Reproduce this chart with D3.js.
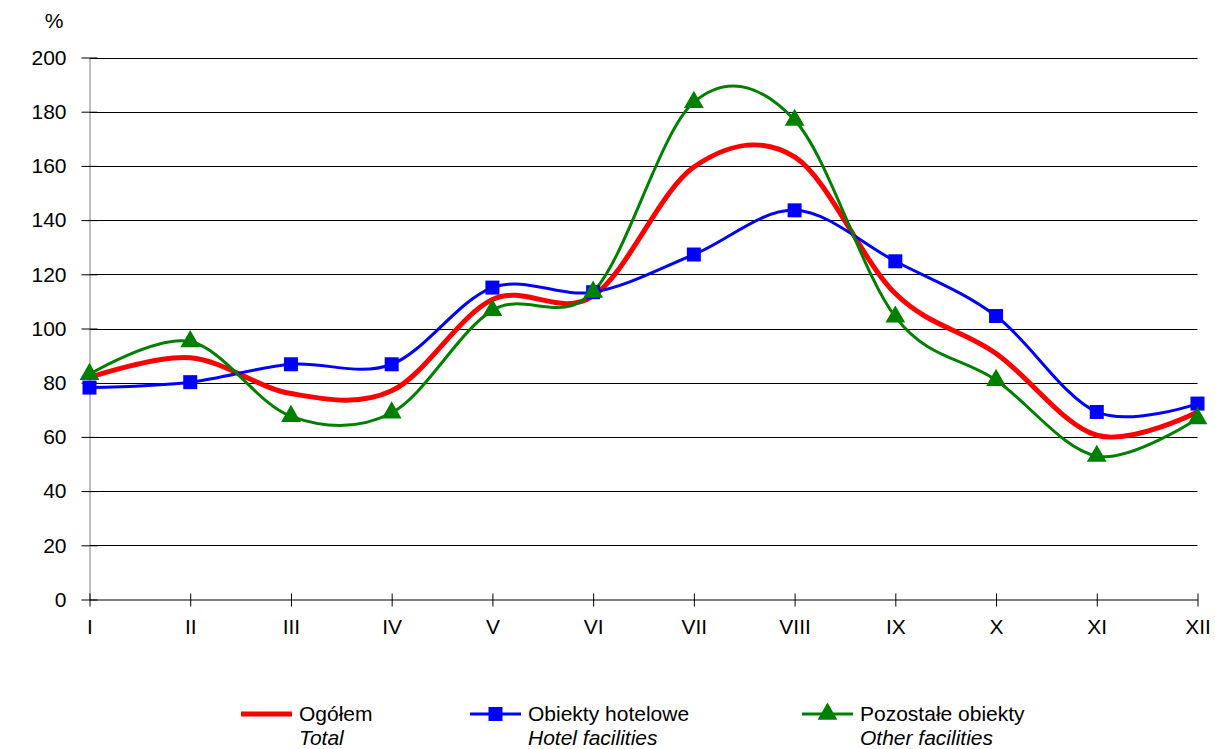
<!DOCTYPE html>
<html>
<head>
<meta charset="utf-8">
<script src="https://cdn.jsdelivr.net/npm/d3@7/dist/d3.min.js"></script>
<style>
  body { margin: 0; background: #fff; }
  svg text { font-family: "Liberation Sans", Arial, sans-serif; fill: #000; }
</style>
</head>
<body>
<svg id="chart" width="1215" height="749"></svg>
<script>
"use strict";

// month labels and series (% values)
var months = ["I", "II", "III", "IV", "V", "VI", "VII", "VIII", "IX", "X", "XI", "XII"];
var totalVals = [81.9, 89.2, 76, 77, 110.7, 112, 159.6, 163.3, 112.9, 90.8, 60.6, 69.2];
var hotelVals = [78.2, 80.2, 86.8, 86.8, 115.1, 113.4, 127.3, 143.6, 124.8, 104.6, 69.2, 72.3];
var otherVals = [83.1, 95.2, 67.6, 68.9, 106.7, 113.5, 183.5, 176.9, 104.3, 80.9, 52.9, 66.8];
var yTicks = [0, 20, 40, 60, 80, 100, 120, 140, 160, 180, 200];

var series = [
  { name: "Ogółem", en: "Total", values: totalVals, color: "#ff0000", width: 5, marker: null },
  { name: "Obiekty hotelowe", en: "Hotel facilities", values: hotelVals, color: "#0000ff", width: 3, marker: "square" },
  { name: "Pozostałe obiekty", en: "Other facilities", values: otherVals, color: "#008000", width: 3, marker: "triangle" }
];

var svg = d3.select("#chart");

var x = d3.scalePoint().domain(months).range([89.5, 1197.5]);
var y = d3.scaleLinear().domain([0, 200]).range([599.5, 57.5]);

// gridlines
svg.append("g").selectAll("line.grid")
  .data(yTicks.filter(function (d) { return d > 0; }))
  .enter().append("line")
  .attr("class", "grid")
  .attr("x1", 89.5).attr("x2", 1197.5)
  .attr("y1", function (d) { return Math.round(y(d)) + 0.5; })
  .attr("y2", function (d) { return Math.round(y(d)) + 0.5; })
  .style("stroke", "#000").style("stroke-width", 1);

// y axis
var yAxis = d3.axisLeft(y).tickValues(yTicks).tickSizeInner(8).tickSizeOuter(0).tickPadding(15);
var gy = svg.append("g").attr("transform", "translate(89.5,0)").call(yAxis);
gy.select(".domain").style("stroke", "#7f7f7f");
gy.selectAll(".tick line").attr("x2", -8).attr("x1", 8).style("stroke", "#000");
gy.selectAll(".tick text").style("font-size", "21px").attr("x", -23)
  .style("font-family", "'Liberation Sans', Arial, sans-serif");

// x axis
var xAxis = d3.axisBottom(x).tickSizeInner(7).tickSizeOuter(0).tickPadding(13);
var gx = svg.append("g").attr("transform", "translate(0,599.5)").call(xAxis);
gx.select(".domain").style("stroke", "#000");
gx.selectAll(".tick line").attr("y1", -6).style("stroke", "#000");
gx.selectAll(".tick text").style("font-size", "21px")
  .style("font-family", "'Liberation Sans', Arial, sans-serif");

svg.append("text").attr("x", 54).attr("y", 28).attr("text-anchor", "middle")
  .style("font-size", "21px").text("%");

var line = d3.line()
  .x(function (d, i) { return x(months[i]); })
  .y(function (d) { return y(d); })
  .curve(d3.curveCatmullRom.alpha(0));

var triangle = d3.symbol().type(d3.symbolTriangle).size(170);

function drawMarker(sel, kind, color) {
  if (kind === "square") {
    sel.append("rect").attr("x", -7).attr("y", -7).attr("width", 14).attr("height", 14)
      .style("fill", color);
  } else if (kind === "triangle") {
    sel.append("path").attr("d", triangle).style("fill", color);
  }
}

series.forEach(function (s) {
  svg.append("path")
    .attr("d", line(s.values))
    .style("fill", "none")
    .style("stroke", s.color)
    .style("stroke-width", s.width)
    .style("stroke-linejoin", "round");
});

series.forEach(function (s) {
  if (!s.marker) return;
  s.values.forEach(function (v, i) {
    var g = svg.append("g").attr("transform", "translate(" + x(months[i]) + "," + y(v) + ")");
    drawMarker(g, s.marker, s.color);
  });
});

// legend
var legendPos = [241, 470, 802];
series.forEach(function (s, i) {
  var lg = svg.append("g").attr("transform", "translate(" + legendPos[i] + ",714)");
  lg.append("line").attr("x1", 0).attr("x2", 51).attr("y1", 0).attr("y2", 0)
    .style("stroke", s.color).style("stroke-width", s.width);
  var m = lg.append("g").attr("transform", "translate(25.5,0)");
  drawMarker(m, s.marker, s.color);
  lg.append("text").attr("x", 58).attr("y", 7).style("font-size", "21px").text(s.name);
  lg.append("text").attr("x", 58).attr("y", 31).style("font-size", "21px")
    .style("font-style", "italic").text(s.en);
});
</script>
</body>
</html>
